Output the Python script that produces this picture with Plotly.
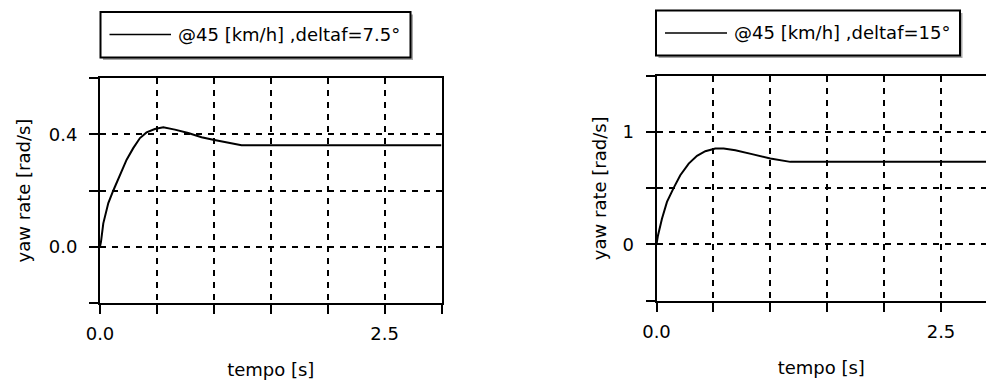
import plotly.graph_objects as go

W, H = 986, 381

# ---- data ----
t_left = [0, 0.009, 0.029, 0.073, 0.117, 0.175, 0.234, 0.292, 0.351, 0.409, 0.482, 0.556,
          0.658, 0.775, 0.892, 0.994, 1.126, 1.243, 3.0]
yaw_left = [0, 0.018, 0.083, 0.155, 0.2, 0.252, 0.31, 0.351, 0.387, 0.407, 0.419, 0.425,
            0.417, 0.405, 0.39, 0.381, 0.371, 0.361, 0.361]

t_right = [0, 0.013, 0.048, 0.092, 0.151, 0.209, 0.283, 0.356, 0.429, 0.517, 0.59, 0.693,
           0.839, 1.0, 1.176, 3.0]
yaw_right = [0, 0.08, 0.229, 0.378, 0.503, 0.616, 0.72, 0.789, 0.83, 0.854, 0.854, 0.839,
             0.804, 0.765, 0.735, 0.735]

legend_left = "@45 [km/h] ,deltaf=7.5°"
legend_right = "@45 [km/h] ,deltaf=15°"

x_tickvals = [0, 0.5, 1.0, 1.5, 2.0, 2.5, 3.0]
x_ticktext = ["0.0", "", "", "", "", "2.5", ""]
yl_tickvals = [-0.2, 0.0, 0.2, 0.4, 0.6]
yl_ticktext = ["", "0.0", "", "0.4", ""]
yr_tickvals = [-0.5, 0.0, 0.5, 1.0, 1.5]
yr_ticktext = ["", "0", "", "1", ""]

x_title = "tempo [s]"
y_title = "yaw rate [rad/s]"

FONT = dict(family="DejaVu Sans", size=18, color="black")


def px(x):
    return x / W


def py(y):
    return 1 - y / H


fig = go.Figure()
fig.add_trace(go.Scatter(x=t_left, y=yaw_left, mode="lines", name=legend_left,
                         line=dict(color="black", width=2),
                         xaxis="x", yaxis="y"))
fig.add_trace(go.Scatter(x=t_right, y=yaw_right, mode="lines", name=legend_right,
                         line=dict(color="black", width=2),
                         xaxis="x2", yaxis="y2"))

common_axis = dict(
    showline=True, linecolor="black", linewidth=2,
    ticks="outside", ticklen=9, tickwidth=2, tickcolor="black",
    showgrid=True, gridcolor="black", gridwidth=1.8, griddash="6px,6px",
    zeroline=False, tickfont=FONT, automargin=False, fixedrange=True,
)

x_right_end = (W - 656.5) / 113.8

fig.update_layout(
    width=W, height=H,
    margin=dict(l=0, r=0, t=0, b=0),
    paper_bgcolor="white", plot_bgcolor="white",
    showlegend=False,
    font=FONT,
    xaxis=dict(common_axis, domain=[px(100), px(441.5)], range=[0, 3.0],
               tickvals=x_tickvals, ticktext=x_ticktext, mirror=True,
               ticklabelstandoff=5,
               title=dict(text=x_title, font=FONT, standoff=20), anchor="y"),
    yaxis=dict(common_axis, domain=[py(302.7), py(78.3)], range=[-0.2, 0.6],
               tickvals=yl_tickvals, ticktext=yl_ticktext, mirror=True,
               ticklabelstandoff=8,
               title=dict(text=y_title, font=FONT, standoff=13), anchor="x"),
    xaxis2=dict(common_axis, domain=[px(656.5), 1.0], range=[0, x_right_end],
                tickvals=x_tickvals, ticktext=x_ticktext, mirror=True,
                ticklabelstandoff=5,
                title=dict(text=x_title, font=FONT, standoff=20), anchor="y2"),
    yaxis2=dict(common_axis, domain=[py(300.5), py(76)], range=[-0.5, 1.5],
                tickvals=yr_tickvals, ticktext=yr_ticktext, mirror=False,
                ticklabelstandoff=8,
                title=dict(text=y_title, font=FONT, standoff=11), anchor="x2"),
)

# ---- legend boxes drawn as shapes + text ----
def add_legend(x0, x1, y0, y1, lx0, lx1, ly, tx, text):
    fig.add_shape(type="rect", xref="paper", yref="paper",
                  x0=px(x0 + 2.5), x1=px(x1 + 2.5), y0=py(y1 + 2.5), y1=py(y0 + 2.5),
                  fillcolor="#a8a8a8", line=dict(width=0), layer="above")
    fig.add_shape(type="rect", xref="paper", yref="paper",
                  x0=px(x0), x1=px(x1), y0=py(y1), y1=py(y0),
                  fillcolor="white", line=dict(color="black", width=2), layer="above")
    fig.add_shape(type="line", xref="paper", yref="paper",
                  x0=px(lx0), x1=px(lx1), y0=py(ly), y1=py(ly),
                  line=dict(color="black", width=1.6), layer="above")
    fig.add_annotation(xref="paper", yref="paper", x=px(tx), y=py(ly),
                       xanchor="left", yanchor="middle", text=text,
                       showarrow=False, font=FONT)


add_legend(100.5, 410.5, 12, 57.5, 109.5, 171, 34.5, 176, legend_left)
add_legend(656, 960, 10.5, 55.5, 665, 727, 33, 732, legend_right)

fig.write_html("out.html")
